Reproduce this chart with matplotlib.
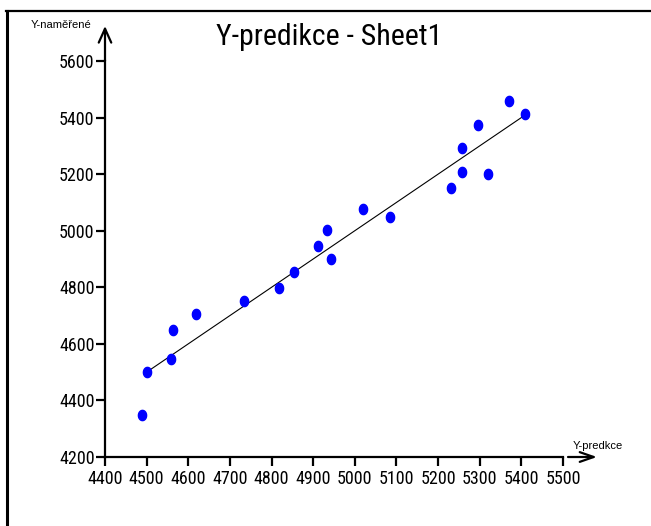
import numpy as np
import matplotlib
matplotlib.use("Agg")
import matplotlib.pyplot as plt
from matplotlib.lines import Line2D
from matplotlib.path import Path
from matplotlib import font_manager

# Données (Y-predikce vs Y-naměřené)
y_predikce = [4490, 4500, 4558, 4564, 4618, 4735, 4819, 4853, 4912, 4932,
              4942, 5020, 5084, 5232, 5257, 5257, 5320, 5297, 5370, 5409]
y_namerene = [4350, 4500, 4545, 4648, 4706, 4753, 4799, 4854, 4946, 5003,
              4900, 5077, 5048, 5152, 5208, 5291, 5199, 5374, 5460, 5413]

x_ticks = [4400, 4500, 4600, 4700, 4800, 4900, 5000, 5100, 5200, 5300, 5400, 5500]
y_ticks = [4200, 4400, 4600, 4800, 5000, 5200, 5400, 5600]

titre = "Y-predikce - Sheet1"
label_x = "Y-predkce"
label_y = "Y-naměřené"

plt.rcParams['font.family'] = ['Liberation Sans', 'DejaVu Sans']

# police étroite si disponible, sinon Liberation Sans plus petite
noms = {f.name for f in font_manager.fontManager.ttflist}
narrow = None
for n in ['Liberation Sans Narrow', 'Arial Narrow', 'Roboto Condensed', 'Open Sans Condensed']:
    if n in noms:
        narrow = n
        break
if narrow:
    FONT = [narrow, 'Liberation Sans', 'DejaVu Sans']
    tick_fs, title_fs = 13, 21.5
else:
    FONT = ['Liberation Sans', 'DejaVu Sans']
    tick_fs, title_fs = 11, 18.3

# marqueur légèrement ovale (plus haut que large)
t = np.linspace(0, 2 * np.pi, 40)
ovale = Path(np.column_stack([0.8 * np.cos(t), np.sin(t)]), closed=True)

W, H = 651, 526
fig = plt.figure(figsize=(W / 100, H / 100), dpi=100)
fig.patch.set_facecolor('white')

# cadre (seulement haut et gauche visibles)
fig.add_artist(Line2D([7 / W, 7 / W], [0, 1 - 10.5 / H], color='black', lw=2.2))
fig.add_artist(Line2D([6 / W, 1], [1 - 10.5 / H, 1 - 10.5 / H], color='black', lw=1.6))

ax = fig.add_axes([105 / W, 1 - 457 / H, 458 / W, 396 / H])
ax.set_xlim(x_ticks[0], x_ticks[-1])
ax.set_ylim(y_ticks[0], y_ticks[-1])
ax.set_xticks(x_ticks)
ax.set_yticks(y_ticks)
for lab in ax.get_xticklabels() + ax.get_yticklabels():
    lab.set_family(FONT)
    lab.set_fontsize(tick_fs)
ax.tick_params(axis='both', width=1.6, length=6.5, color='black')
ax.tick_params(axis='x', pad=3)
ax.tick_params(axis='y', pad=1)
for s in ['top', 'right']:
    ax.spines[s].set_visible(False)
for s in ['left', 'bottom']:
    ax.spines[s].set_linewidth(1.6)

# droite y = x jusqu'à la prédiction max
x_line = [4500, max(y_predikce)]
ax.plot(x_line, x_line, color='black', lw=0.8, zorder=2)

ax.plot(y_predikce, y_namerene, linestyle='none', marker=ovale, color='#0000ff',
        ms=7.4, mec='#0000ff', zorder=3, clip_on=False)

# flèches des axes
ax.annotate('', xy=(0, 1 + 35 / 396), xytext=(0, 1), xycoords='axes fraction',
            arrowprops=dict(arrowstyle='->,head_length=1.0,head_width=0.45', lw=1.6, color='black',
                            shrinkA=0, shrinkB=0))
ax.annotate('', xy=(1 + 34 / 458, 0), xytext=(1 + 5 / 458, 0), xycoords='axes fraction',
            arrowprops=dict(arrowstyle='->,head_length=1.0,head_width=0.35', lw=1.6, color='black',
                            shrinkA=0, shrinkB=0))

fig.text(329 / W, 1 - 45 / H, titre, ha='center', va='baseline', fontsize=title_fs, family=FONT)
fig.text(31 / W, 1 - 25 / H, label_y, ha='left', va='center', fontsize=8)
fig.text(573 / W, 1 - 446 / H, label_x, ha='left', va='center', fontsize=8)

fig.savefig('out.png', dpi=100, facecolor='white')
